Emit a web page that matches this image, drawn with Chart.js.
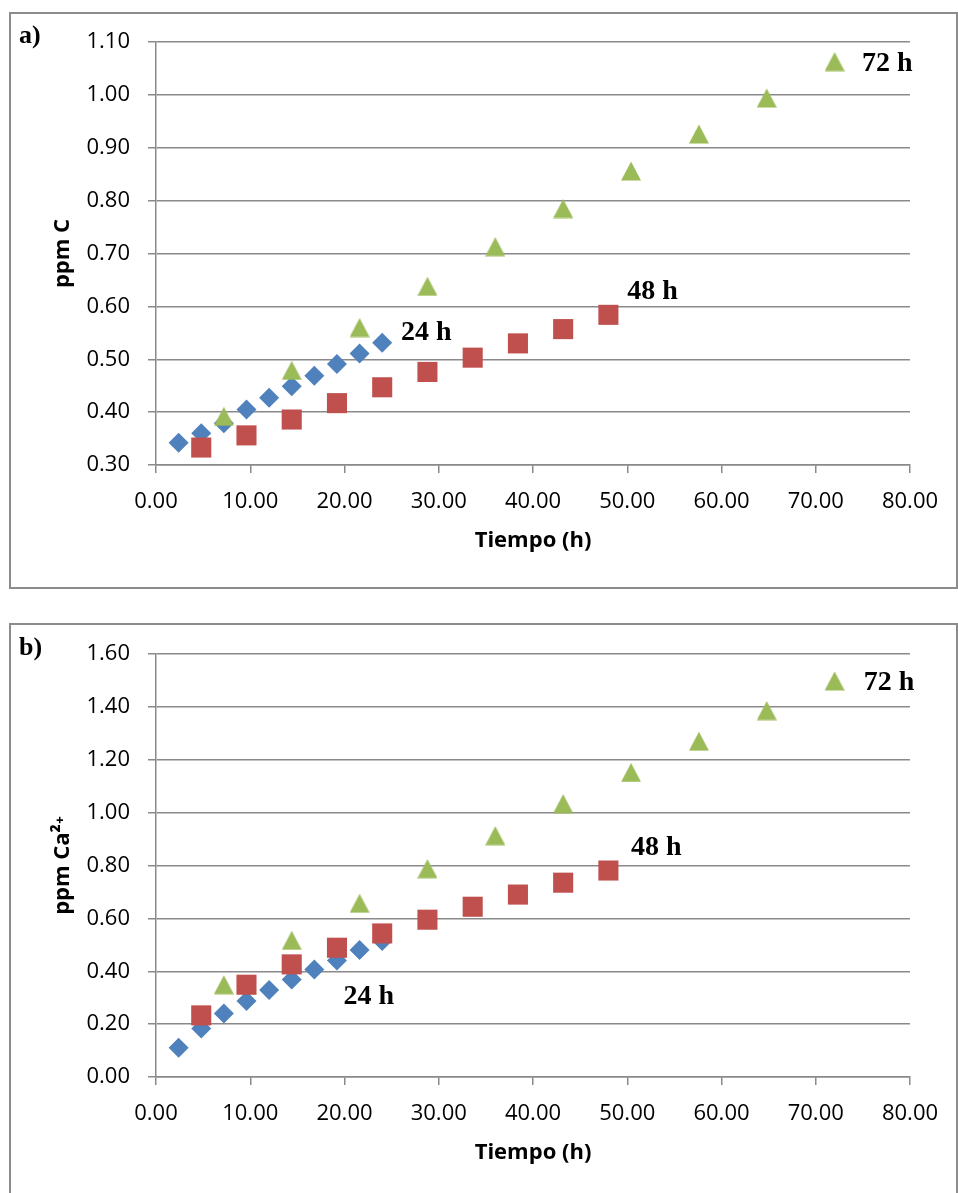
<!DOCTYPE html>
<html lang="es">
<head>
    <meta charset="UTF-8">
    <title>ppm C y ppm Ca2+ frente al tiempo</title>
    <script src="https://cdn.jsdelivr.net/npm/chart.js"></script>
    <style>
        body {
            margin: 0;
            width: 958px;
            height: 1193px;
            overflow: hidden;
            background: #fff;
            position: relative;
        }
        /* grey frames around each panel */
        .frame {
            position: absolute;
            left: 9px;
            width: 949px;
            border: 2px solid #8c8c8c;
            box-sizing: border-box;
        }
        #frameA { top: 12px; height: 577px; }
        #frameB { top: 623px; height: 620px; }
        canvas { position: absolute; left: 0; }
        #chartA { top: 0; }
        #chartB { top: 612px; }
    </style>
</head>
<body>
    <div class="frame" id="frameA"></div>
    <div class="frame" id="frameB"></div>
    <canvas id="chartA" width="958" height="600"></canvas>
    <canvas id="chartB" width="958" height="600"></canvas>

    <script>
        // sampling times (h) for each run
        const hours24 = [2.4, 4.8, 7.2, 9.6, 12.0, 14.4, 16.8, 19.2, 21.6, 24.0];
        const hours48 = [4.8, 9.6, 14.4, 19.2, 24.0, 28.8, 33.6, 38.4, 43.2, 48.0];
        const hours72 = [7.2, 14.4, 21.6, 28.8, 36.0, 43.2, 50.4, 57.6, 64.8, 72.0];

        // a) ppm C
        const carbon24 = [0.342, 0.360, 0.379, 0.405, 0.427, 0.449, 0.469, 0.491, 0.511, 0.531];
        const carbon48 = [0.333, 0.356, 0.386, 0.417, 0.447, 0.476, 0.503, 0.530, 0.557, 0.584];
        const carbon72 = [0.392, 0.479, 0.560, 0.638, 0.713, 0.785, 0.856, 0.926, 0.994, 1.063];

        // b) ppm Ca2+
        const calcium24 = [0.111, 0.183, 0.240, 0.287, 0.329, 0.369, 0.407, 0.441, 0.480, 0.514];
        const calcium48 = [0.233, 0.349, 0.426, 0.489, 0.543, 0.595, 0.644, 0.690, 0.735, 0.781];
        const calcium72 = [0.349, 0.517, 0.657, 0.788, 0.913, 1.034, 1.152, 1.270, 1.386, 1.498];

        // axis ticks
        const xTicks = [0, 10, 20, 30, 40, 50, 60, 70, 80];
        const yTicksC = [0.30, 0.40, 0.50, 0.60, 0.70, 0.80, 0.90, 1.00, 1.10];
        const yTicksCa = [0.00, 0.20, 0.40, 0.60, 0.80, 1.00, 1.20, 1.40, 1.60];

        // end-of-run tags, anchored in data units
        const tagsC = [
            { text: '24 h', x: 26.0, y: 0.536 },
            { text: '48 h', x: 50.0, y: 0.614 },
            { text: '72 h', x: 74.9, y: 1.046 }
        ];
        const tagsCa = [
            { text: '24 h', x: 19.9, y: 0.277 },
            { text: '48 h', x: 50.4, y: 0.838 },
            { text: '72 h', x: 75.1, y: 1.463 }
        ];

        const gridColor = '#8a8a8a';
        const tickFont = { family: '"Open Sans", sans-serif', size: 22 };
        const titleFont = { family: '"Open Sans", sans-serif', size: 22, weight: 'bold' };

        Chart.defaults.color = '#000';

        // triangle marker centred on its bounding box (like Excel)
        function triangleMarker(color) {
            const c = document.createElement('canvas');
            c.width = 20;
            c.height = 20;
            const g = c.getContext('2d');
            g.fillStyle = color;
            g.beginPath();
            g.moveTo(10, 0.5);
            g.lineTo(20, 19.5);
            g.lineTo(0, 19.5);
            g.closePath();
            g.fill();
            return c;
        }

        // draws the "24 h" style tags and the panel letter
        const tagPlugin = {
            id: 'tags',
            afterDatasetsDraw(chart, args, opts) {
                const { ctx, scales: { x, y } } = chart;
                ctx.save();
                ctx.fillStyle = '#000';
                ctx.textAlign = 'left';
                ctx.textBaseline = 'alphabetic';
                ctx.font = 'bold 28px "Liberation Serif", "Times New Roman", serif';
                opts.items.forEach(t => {
                    ctx.fillText(t.text, x.getPixelForValue(t.x), y.getPixelForValue(t.y));
                });
                ctx.font = 'bold 26px "Liberation Serif", "Times New Roman", serif';
                ctx.fillText(opts.panel, 19, 43);
                ctx.restore();
            }
        };

        const pairs = (xs, ys) => xs.map((h, i) => ({ x: h, y: ys[i] }));

        function makeChart(id, s24, s48, s72, yTicks, yTitle, tags, panel) {
            const step = +(yTicks[1] - yTicks[0]).toFixed(2);
            return new Chart(document.getElementById(id), {
                type: 'scatter',
                data: {
                    datasets: [
                        {
                            label: '24 h',
                            data: pairs(hours24, s24),
                            pointStyle: 'rectRot',
                            pointRadius: 10,
                            backgroundColor: '#4F81BD',
                            borderWidth: 0,
                            order: 3
                        },
                        {
                            label: '48 h',
                            data: pairs(hours48, s48),
                            pointStyle: 'rect',
                            pointRadius: 14.2,
                            backgroundColor: '#C0504D',
                            borderWidth: 0,
                            order: 2
                        },
                        {
                            label: '72 h',
                            data: pairs(hours72, s72),
                            pointStyle: triangleMarker('#9BBB59'),
                            pointRadius: 10,
                            backgroundColor: '#9BBB59',
                            borderWidth: 0,
                            order: 1
                        }
                    ]
                },
                options: {
                    responsive: false,
                    animation: false,
                    events: [],
                    layout: { padding: { top: 42, right: 48, bottom: 0, left: 0 } },
                    plugins: {
                        legend: { display: false },
                        tooltip: { enabled: false },
                        tags: { items: tags, panel: panel }
                    },
                    scales: {
                        x: {
                            type: 'linear',
                            min: xTicks[0],
                            max: xTicks[xTicks.length - 1],
                            ticks: {
                                stepSize: xTicks[1] - xTicks[0],
                                padding: 16,
                                maxRotation: 0,
                                font: tickFont,
                                callback: v => v.toFixed(2)
                            },
                            grid: { drawOnChartArea: false, tickLength: 8, color: gridColor, lineWidth: 1.5 },
                            border: { color: gridColor, width: 1.5 },
                            title: {
                                display: true,
                                text: 'Tiempo (h)',
                                font: titleFont,
                                padding: { top: 0, bottom: 46 }
                            },
                            afterFit: s => { s.height = 135; }
                        },
                        y: {
                            type: 'linear',
                            min: yTicks[0],
                            max: yTicks[yTicks.length - 1],
                            ticks: {
                                stepSize: step,
                                padding: 18,
                                font: tickFont,
                                callback: v => v.toFixed(2)
                            },
                            grid: { tickLength: 8, color: gridColor, lineWidth: 1.5 },
                            border: { color: gridColor, width: 1.5 },
                            title: {
                                display: true,
                                text: yTitle,
                                font: titleFont,
                                padding: { top: 50, bottom: 0 }
                            },
                            afterFit: s => { s.width = 156; }
                        }
                    }
                },
                plugins: [tagPlugin]
            });
        }

        makeChart('chartA', carbon24, carbon48, carbon72, yTicksC, 'ppm C', tagsC, 'a)');
        makeChart('chartB', calcium24, calcium48, calcium72, yTicksCa, 'ppm Ca\u00B2\u207A', tagsCa, 'b)');
    </script>
</body>
</html>
